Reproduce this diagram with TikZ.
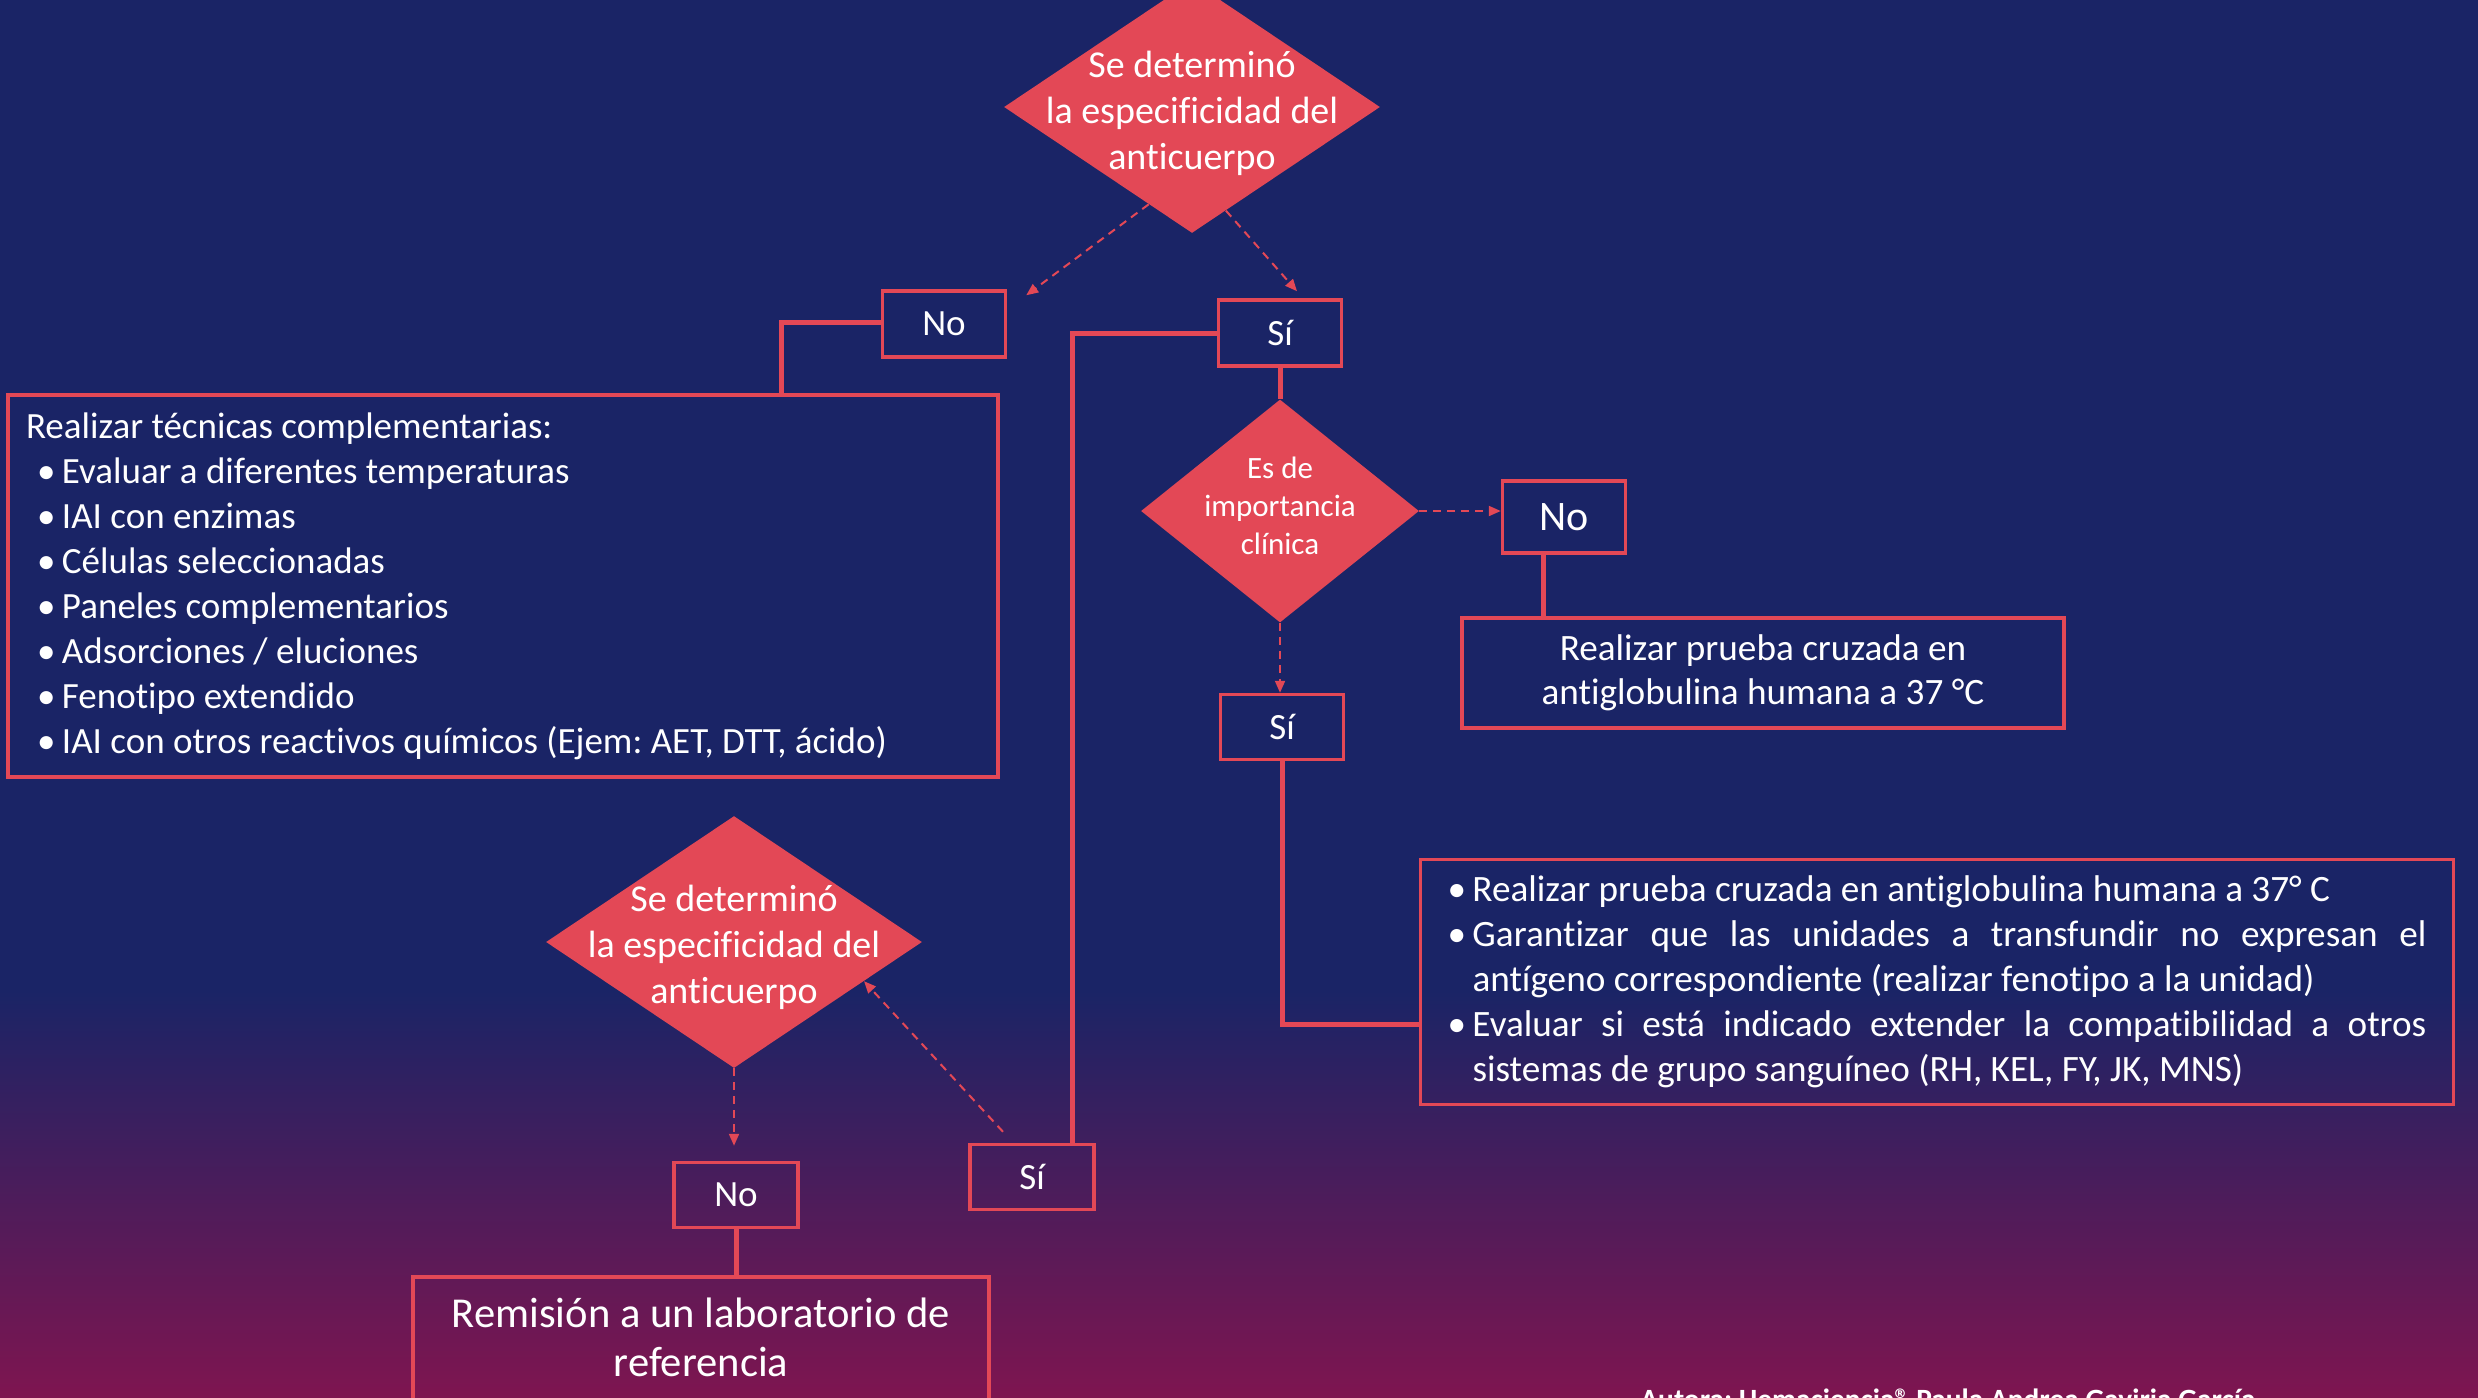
\documentclass[tikz,border=0pt]{standalone}
\usepackage{fontspec}
\setmainfont{Carlito}[Ligatures=NoCommon]
\usetikzlibrary{shapes.geometric,arrows.meta,calc}
\definecolor{navy}{HTML}{1A2466}
\definecolor{magen}{HTML}{7E1550}
\definecolor{rojo}{HTML}{E34856}
\newcommand{\bul}{\makebox[12.5pt][l]{\textbullet}}
\frenchspacing
\begin{document}
\begin{tikzpicture}[x=0.5pt,y=-0.5pt,
  box/.style={draw=rojo,line width=1.75pt,inner sep=0pt,text=white,align=center},
  dec/.style={shape=diamond,fill=rojo,draw=none,inner sep=0pt},
  dtext/.style={text=white,align=center,inner sep=0pt},
  conn/.style={draw=rojo,line width=2.5pt},
  darr/.style={draw=rojo,line width=1pt,dash pattern=on 4pt off 3pt,-{Triangle[length=6pt,width=5pt]}},
  ]
\useasboundingbox (0,0) rectangle (2478,1397);
\fill[navy] (0,0) rectangle (2478,1397);
\shade[top color=navy,bottom color=magen] (0,990) rectangle (2478,1397);

% top diamond
\node[dec,minimum width=188pt,minimum height=126pt] (d1) at (1192,107) {};
\node[dtext,font=\fontsize{19}{23}\selectfont] (t1) at (1192,113) {Se determinó\\la especificidad del\\anticuerpo};

% No / Si boxes
\node[box,minimum width=61.5pt,minimum height=33pt,font=\fontsize{18.5}{22}\selectfont] (noA) at (944,324) {No};
\node[box,minimum width=61.5pt,minimum height=33pt,font=\fontsize{18.5}{22}\selectfont] (siA) at (1280,333) {Sí};

% left big box
\node[box,minimum width=495pt,minimum height=191pt] (boxL) at (503,586) {%
\begin{minipage}{477pt}\fontsize{18.5}{22.5}\selectfont\raggedright
Realizar técnicas complementarias:\\
\hspace*{5.5pt}\bul Evaluar a diferentes temperaturas\\
\hspace*{5.5pt}\bul IAI con enzimas\\
\hspace*{5.5pt}\bul Células seleccionadas\\
\hspace*{5.5pt}\bul Paneles complementarios\\
\hspace*{5.5pt}\bul Adsorciones / eluciones\\
\hspace*{5.5pt}\bul Fenotipo extendido\\
\hspace*{5.5pt}\bul IAI con otros reactivos químicos (Ejem: AET, DTT, ácido)
\end{minipage}};

% diamond 2
\node[dec,minimum width=139pt,minimum height=111.5pt] (d2) at (1280,511) {};
\node[dtext,font=\fontsize{15.5}{19}\selectfont] (t2) at (1280,506) {Es de\\importancia\\clínica};

\node[box,minimum width=61.5pt,minimum height=36pt,font=\fontsize{21}{24}\selectfont] (noB) at (1564,517) {No};
\node[box,minimum width=301pt,minimum height=55pt,font=\fontsize{18.6}{22}\selectfont] (boxS) at (1763,673) {Realizar prueba cruzada en\\antiglobulina humana a 37 °C};

\node[box,minimum width=61.5pt,minimum height=32.5pt,font=\fontsize{18.5}{22}\selectfont] (siB) at (1282,727) {Sí};

% right bullet box
\node[box,minimum width=516.5pt,minimum height=122.5pt] (bulR) at (1937,982) {%
\begin{minipage}{489.5pt}\fontsize{18.6}{22.5}\selectfont\parindent=0pt\hyphenpenalty=10000\exhyphenpenalty=10000
\hangindent=12.5pt\hangafter=1\bul Realizar prueba cruzada en antiglobulina humana a 37° C\par
\hangindent=12.5pt\hangafter=1\bul Garantizar que las unidades a transfundir no expresan el antígeno correspondiente (realizar fenotipo a la unidad)\par
\hangindent=12.5pt\hangafter=1\bul Evaluar si está indicado extender la compatibilidad a otros sistemas de grupo sanguíneo (RH, KEL, FY, JK, MNS)\par
\end{minipage}};

% diamond 3
\node[dec,minimum width=188pt,minimum height=126pt] (d3) at (734,942) {};
\node[dtext,font=\fontsize{19}{23}\selectfont] (t3) at (734,947) {Se determinó\\la especificidad del\\anticuerpo};

\node[box,minimum width=62pt,minimum height=32.5pt,font=\fontsize{18.5}{22}\selectfont] (siC) at (1032,1177) {Sí};
\node[box,minimum width=62pt,minimum height=32.5pt,font=\fontsize{18.5}{22}\selectfont] (noC) at (736,1195) {No};
\node[box,minimum width=288pt,minimum height=75pt,anchor=north] (remB) at (701,1275) {};
\node[dtext,font=\fontsize{21.3}{24.5}\selectfont] (remT) at (701,1337) {Remisión a un laboratorio de\\referencia};

\node[anchor=base west,inner sep=0pt,text=white,font=\bfseries\fontsize{14.7}{17}\selectfont] (aut) at (1640,1409) {Autora: Hemaciencia® Paula Andrea Gaviria García};

% connectors
\coordinate (jA) at (781,322);
\draw[conn] (noA.west |- jA) -- (jA) -- (jA |- boxL.north);
\coordinate (jB) at (1072,333);
\draw[conn] (siA.west) -- (jB) -- (jB |- siC.north);
\draw[conn] (siA.south) -- (siA.south |- d2.north);
\draw[conn] ([xshift=-10.5pt]noB.south) -- ([xshift=-10.5pt]noB.south |- boxS.north);
\draw[conn] (siB.south) |- ([yshift=-21pt]bulR.west);
\draw[conn] (noC.south) -- (noC.south |- remB.north);

\draw[darr] ($(d1.west)!0.77!(d1.south)$) -- ($(noA.north east)+(19,6)$);
\draw[darr] ($(d1.south)!0.18!(d1.east)$) -- ($(siA.north)+(17,-7)$);
\draw[darr] (d2.east) -- (d2.east -| noB.west);
\draw[darr] (d2.south) -- (d2.south |- siB.north);
\draw[darr,shorten >=7.5pt] (d3.south) -- (d3.south |- noC.north);
\draw[darr] ($(siC.north)+(-29,-11)$) -- ($(d3.east)!0.31!(d3.south)$);
\end{tikzpicture}
\end{document}
